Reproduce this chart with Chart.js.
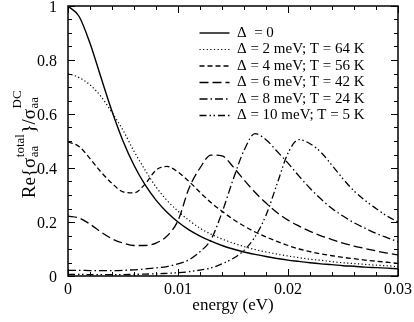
<!DOCTYPE html>
<html>
<head>
<meta charset="utf-8">
<script src="https://cdn.jsdelivr.net/npm/chart.js@4.4.0/dist/chart.umd.min.js"></script>
<style>
  html, body { margin: 0; padding: 0; background: #fff; }
  canvas { display: block; }
</style>
</head>
<body>
<canvas id="cond-chart" width="414" height="322"></canvas>
<script>
// photon energy (eV)
const energy = [0, 0.001, 0.002, 0.003, 0.004, 0.005, 0.006, 0.007, 0.008, 0.009,
  0.010, 0.011, 0.012, 0.013, 0.014, 0.015, 0.016, 0.017, 0.018, 0.019,
  0.020, 0.021, 0.022, 0.023, 0.024, 0.025, 0.026, 0.027, 0.028, 0.029, 0.030];

// Re{sigma_aa^total}/sigma_aa^DC
const gap0 = [1.000, 0.962, 0.862, 0.735, 0.610, 0.500, 0.410, 0.338, 0.281, 0.236,
  0.200, 0.171, 0.148, 0.129, 0.113, 0.100, 0.089, 0.080, 0.072, 0.065,
  0.059, 0.054, 0.049, 0.045, 0.042, 0.038, 0.036, 0.033, 0.031, 0.029, 0.027];
const gap2 = [0.750, 0.735, 0.708, 0.665, 0.605, 0.540, 0.462, 0.393, 0.330, 0.280,
  0.240, 0.206, 0.177, 0.155, 0.137, 0.122, 0.109, 0.098, 0.089, 0.081,
  0.074, 0.068, 0.062, 0.058, 0.053, 0.049, 0.046, 0.043, 0.040, 0.038, 0.035];
const gap4 = [0.497, 0.480, 0.435, 0.385, 0.343, 0.312, 0.308, 0.340, 0.392, 0.406,
  0.385, 0.350, 0.310, 0.272, 0.240, 0.210, 0.185, 0.163, 0.145, 0.128,
  0.113, 0.100, 0.090, 0.082, 0.075, 0.069, 0.064, 0.059, 0.055, 0.051, 0.047];
const gap6 = [0.222, 0.215, 0.192, 0.163, 0.138, 0.122, 0.113, 0.113, 0.122, 0.148,
  0.205, 0.325, 0.400, 0.448, 0.445, 0.405, 0.356, 0.310, 0.270, 0.235,
  0.207, 0.185, 0.165, 0.149, 0.135, 0.122, 0.111, 0.102, 0.093, 0.085, 0.078];
const gap8 = [0.021, 0.021, 0.020, 0.020, 0.020, 0.021, 0.023, 0.026, 0.030, 0.035,
  0.045, 0.060, 0.090, 0.135, 0.235, 0.356, 0.465, 0.527, 0.505, 0.462,
  0.418, 0.370, 0.325, 0.285, 0.250, 0.222, 0.197, 0.177, 0.158, 0.142, 0.127];
const gap10 = [0.006, 0.006, 0.005, 0.005, 0.005, 0.005, 0.006, 0.007, 0.008, 0.010,
  0.012, 0.016, 0.022, 0.030, 0.045, 0.065, 0.095, 0.145, 0.225, 0.340,
  0.455, 0.505, 0.490, 0.458, 0.410, 0.360, 0.315, 0.280, 0.250, 0.222, 0.200];

const seriesLabels = ['Δ  = 0', 'Δ = 2 meV; T = 64 K', 'Δ = 4 meV; T = 56 K',
  'Δ = 6 meV; T = 42 K', 'Δ = 8 meV; T = 24 K', 'Δ = 10 meV; T = 5 K'];

const xTicks = [0, 0.01, 0.02, 0.03];
const xTickLabels = ['0', '0.01', '0.02', '0.03'];
const yTicks = [0, 0.2, 0.4, 0.6, 0.8, 1];
const yTickLabels = ['0', '0.2', '0.4', '0.6', '0.8', '1'];

const SERIF = "'Liberation Serif', 'Times New Roman', serif";
Chart.defaults.font.family = SERIF;
Chart.defaults.color = '#000';

const dashes = [[], [1.2, 2.4], [5, 3], [9, 4], [8, 3, 1.5, 3], [7, 3, 1.5, 2.5, 1.5, 3]];
const widths = [1.4, 1.2, 1.3, 1.3, 1.3, 1.3];

const datasets = [gap0, gap2, gap4, gap6, gap8, gap10].map((vals, i) => ({
  label: seriesLabels[i],
  data: vals.map((v, k) => ({ x: energy[k], y: v })),
  borderColor: '#000',
  backgroundColor: '#000',
  borderWidth: widths[i],
  borderDash: dashes[i],
  pointRadius: 0,
  fill: false,
  cubicInterpolationMode: 'monotone',
}));

// inward ticks on all four sides plus the box
const frameTicks = {
  id: 'frameTicks',
  afterDatasetsDraw(chart) {
    const { ctx, chartArea: a, scales: { x, y } } = chart;
    ctx.save();
    ctx.strokeStyle = '#000';
    ctx.lineWidth = 1;
    ctx.setLineDash([]);
    ctx.beginPath();
    for (let i = 0; i <= 15; i++) {
      const px = Math.round(x.getPixelForValue(i * 0.002)) + 0.5;
      const len = i % 5 === 0 ? 7 : 4;
      ctx.moveTo(px, a.bottom); ctx.lineTo(px, a.bottom - len);
      ctx.moveTo(px, a.top); ctx.lineTo(px, a.top + len);
    }
    for (let i = 0; i <= 20; i++) {
      const py = Math.round(y.getPixelForValue(i * 0.05)) + 0.5;
      const len = i % 4 === 0 ? 7 : 4;
      ctx.moveTo(a.left, py); ctx.lineTo(a.left + len, py);
      ctx.moveTo(a.right, py); ctx.lineTo(a.right - len, py);
    }
    ctx.stroke();
    ctx.lineWidth = 1.5;
    ctx.strokeRect(a.left, a.top, a.right - a.left, a.bottom - a.top);
    ctx.restore();
  },
};

// axis titles with sub/superscripts
const axisTitles = {
  id: 'axisTitles',
  afterDraw(chart) {
    const { ctx, chartArea: a } = chart;
    ctx.save();
    ctx.fillStyle = '#000';
    ctx.font = '17px ' + SERIF;
    ctx.textAlign = 'center';
    ctx.textBaseline = 'middle';
    ctx.fillText('energy (eV)', (a.left + a.right) / 2, 306);

    const big = '19px ' + SERIF, small = '13px ' + SERIF;
    const parts = [
      { t: 'Re{σ', f: big },
      { sub: 'aa', sup: 'total', up: -11 },
      { t: '}/σ', f: big },
      { sub: 'aa', sup: 'DC', up: -14 },
    ];
    let total = 0;
    parts.forEach(p => {
      if (p.t) { ctx.font = p.f; p.w = ctx.measureText(p.t).width; }
      else { ctx.font = small; p.w = Math.max(ctx.measureText(p.sub).width, ctx.measureText(p.sup).width) + 1; }
      total += p.w;
    });
    ctx.translate(35, (a.top + a.bottom) / 2 + 3);
    ctx.rotate(-Math.PI / 2);
    ctx.textAlign = 'left';
    ctx.textBaseline = 'alphabetic';
    let cx = -total / 2;
    parts.forEach(p => {
      if (p.t) { ctx.font = p.f; ctx.fillText(p.t, cx, 0); }
      else {
        ctx.font = small;
        ctx.fillText(p.sub, cx + 0.5, 3);
        ctx.fillText(p.sup, cx + 0.5, p.up);
      }
      cx += p.w;
    });
    ctx.restore();
  },
};

// place the chartArea legend in the upper right of the plot
const legendSpot = {
  id: 'legendSpot',
  afterLayout(chart) {
    const lg = chart.legend;
    if (!lg) return;
    lg.left = 198;
    lg.top = 24;
  },
};

const baseLabels = Chart.defaults.plugins.legend.labels.generateLabels;

new Chart(document.getElementById('cond-chart'), {
  type: 'line',
  data: { datasets },
  options: {
    responsive: false,
    animation: false,
    layout: { padding: { left: 0, right: 16, top: 6, bottom: 0 } },
    plugins: {
      legend: {
        position: 'chartArea',
        align: 'start',
        labels: {
          usePointStyle: true,
          pointStyle: 'line',
          pointStyleWidth: 30,
          padding: 1.5,
          color: '#000',
          font: { family: SERIF, size: 15 },
          generateLabels: chart => baseLabels(chart).map(item => {
            const ds = chart.data.datasets[item.datasetIndex];
            item.lineDash = ds.borderDash;
            item.lineWidth = ds.borderWidth;
            item.strokeStyle = ds.borderColor;
            return item;
          }),
        },
      },
      tooltip: { enabled: false },
    },
    scales: {
      x: {
        type: 'linear',
        min: 0,
        max: 0.03,
        grid: { display: false, drawTicks: false },
        border: { display: false },
        afterBuildTicks: s => { s.ticks = xTicks.map(v => ({ value: v })); },
        afterFit: s => { s.height = 46; s.paddingLeft = 0; s.paddingRight = 0; },
        ticks: {
          padding: 4,
          maxRotation: 0,
          color: '#000',
          font: { family: SERIF, size: 16 },
          callback: (v, i) => xTickLabels[i],
        },
      },
      y: {
        min: 0,
        max: 1,
        grid: { display: false, drawTicks: false },
        border: { display: false },
        afterBuildTicks: s => { s.ticks = yTicks.map(v => ({ value: v })); },
        afterFit: s => { s.width = 68; s.paddingTop = 0; s.paddingBottom = 0; },
        ticks: {
          padding: 11,
          labelOffset: 1.5,
          color: '#000',
          font: { family: SERIF, size: 16 },
          callback: (v, i) => yTickLabels[i],
        },
      },
    },
  },
  plugins: [frameTicks, axisTitles, legendSpot],
});
</script>
</body>
</html>
